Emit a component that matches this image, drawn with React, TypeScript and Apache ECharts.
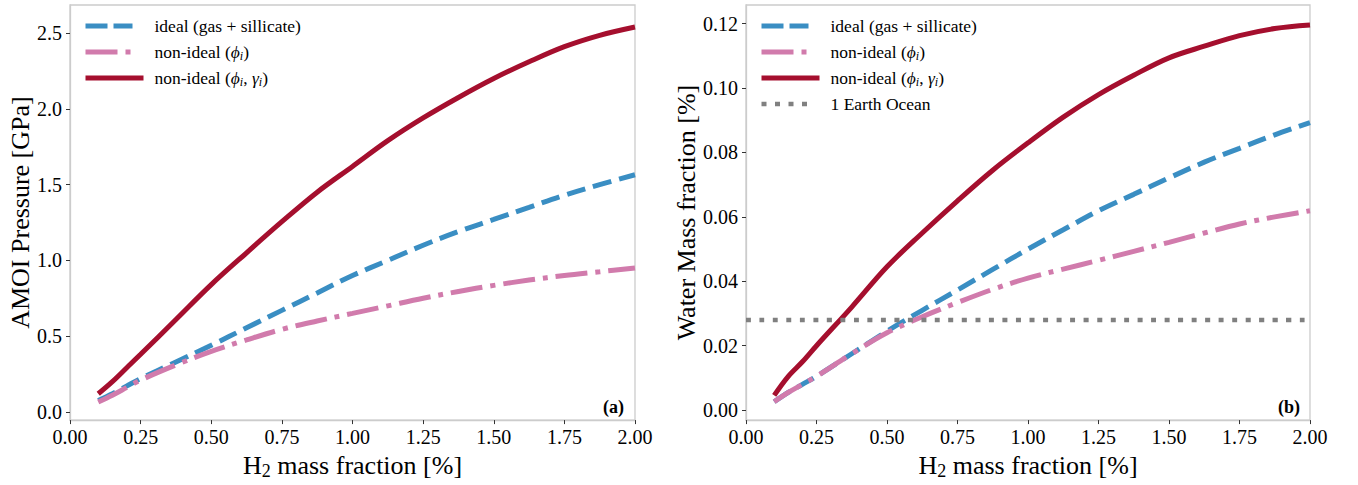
import React, { useEffect, useRef } from "react";
import * as echarts from "echarts";

// ---- data ----
const h2Fraction = [0.1, 0.15, 0.2, 0.25, 0.375, 0.5, 0.625, 0.75, 0.875, 1.0, 1.125, 1.25, 1.375, 1.5, 1.625, 1.75, 1.875, 2.0];
const pressureIdeal = [0.075, 0.12, 0.17, 0.22, 0.33, 0.44, 0.555, 0.67, 0.785, 0.9, 1.0, 1.1, 1.19, 1.27, 1.35, 1.43, 1.5, 1.565];
const pressurePhi = [0.065, 0.11, 0.16, 0.21, 0.31, 0.4, 0.475, 0.545, 0.6, 0.65, 0.7, 0.75, 0.795, 0.835, 0.87, 0.9, 0.925, 0.95];
const pressurePhiGamma = [0.12, 0.2, 0.29, 0.38, 0.61, 0.84, 1.05, 1.255, 1.45, 1.62, 1.79, 1.94, 2.075, 2.2, 2.31, 2.41, 2.485, 2.54];
const waterIdeal = [0.0026, 0.0055, 0.008, 0.0105, 0.0175, 0.0245, 0.031, 0.0373, 0.0437, 0.05, 0.056, 0.0619, 0.067, 0.0721, 0.077, 0.0813, 0.0855, 0.0893];
const waterPhi = [0.0026, 0.0055, 0.008, 0.0105, 0.0175, 0.024, 0.029, 0.0334, 0.0375, 0.041, 0.0438, 0.0465, 0.0493, 0.0521, 0.055, 0.0578, 0.06, 0.0619];
const waterPhiGamma = [0.0046, 0.0105, 0.015, 0.02, 0.032, 0.0445, 0.055, 0.065, 0.0745, 0.083, 0.091, 0.098, 0.104, 0.1094, 0.113, 0.1163, 0.1185, 0.1196];
const earthOceanX = [0, 2];
const earthOceanWater = [0.028, 0.028];

const xTicks = [0, 0.25, 0.5, 0.75, 1.0, 1.25, 1.5, 1.75, 2.0];
const pressureTicks = [0, 0.5, 1.0, 1.5, 2.0, 2.5];
const waterTicks = [0, 0.02, 0.04, 0.06, 0.08, 0.1, 0.12];

const NAME_IDEAL = "ideal (gas + sillicate)";
const NAME_PHI = "non-ideal (ϕi)";
const NAME_PHIGAMMA = "non-ideal (ϕi, γi)";
const NAME_OCEAN = "1 Earth Ocean";

const richNames: Record<string, string> = {
  [NAME_IDEAL]: "ideal (gas + sillicate)",
  [NAME_PHI]: "non-ideal ({m|ϕ}{s|i})",
  [NAME_PHIGAMMA]: "non-ideal ({m|ϕ}{s|i}, {m|γ}{s|i})",
  [NAME_OCEAN]: "1 Earth Ocean",
};

const FONT = "'Liberation Serif', 'Times New Roman', serif";
const BLUE = "#3a8ec3";
const PINK = "#d17bac";
const RED = "#a50f2e";
const GRAY = "#808080";
const SPINE = "#cccccc";

const DASH_IDEAL = [19, 8];
const DASH_PHI = [32, 8, 5, 8];
const DASH_OCEAN = [5, 8.5];

const styleOf: Record<string, { color: string; type: any; legendType: any; width: number }> = {
  [NAME_IDEAL]: { color: BLUE, type: DASH_IDEAL, legendType: [22, 6, 19, 40], width: 5 },
  [NAME_PHI]: { color: PINK, type: DASH_PHI, legendType: [32, 8, 5, 40], width: 5 },
  [NAME_PHIGAMMA]: { color: RED, type: "solid", legendType: "solid", width: 5 },
  [NAME_OCEAN]: { color: GRAY, type: DASH_OCEAN, legendType: [5, 8.5, 5, 8.5, 5, 8.5, 5, 40], width: 4.5 },
};

const pairs = (xs: number[], ys: number[]) => xs.map((x, i) => [x, ys[i]]);

export default function App() {
  const ref = useRef<HTMLDivElement>(null);
  useEffect(() => {
    if (!ref.current) return;
    const chart = echarts.init(ref.current, undefined, { renderer: "svg" });

    const grids = [
      { left: 70, top: 5, width: 565, height: 420 },
      { left: 746, top: 5, width: 564, height: 420 },
    ];

    const xAxisBase = (gridIndex: number) => ({
      type: "value",
      gridIndex,
      min: 0,
      max: 2,
      name: "{n|H}{s|2}{n| mass fraction [%]}",
      nameLocation: "middle",
      nameGap: 27,
      nameTextStyle: {
        rich: {
          n: { fontFamily: FONT, fontSize: 26, color: "#000", lineHeight: 30 },
          s: { fontFamily: FONT, fontSize: 18, color: "#000", verticalAlign: "bottom", lineHeight: 16 },
        },
      },
      axisLine: { show: true, onZero: false, lineStyle: { color: SPINE, width: 1.3 } },
      axisTick: { show: true, customValues: xTicks, length: 4, lineStyle: { color: "#333", width: 1 } },
      axisLabel: {
        customValues: xTicks,
        formatter: (v: number) => v.toFixed(2),
        fontFamily: FONT,
        fontSize: 20,
        color: "#000",
        margin: 7,
      },
      splitLine: { show: false },
    });

    const yAxisBase = (gridIndex: number, min: number, max: number, ticks: number[], digits: number, name: string, nameGap: number) => ({
      type: "value",
      gridIndex,
      min,
      max,
      name,
      nameLocation: "middle",
      nameGap,
      nameTextStyle: { fontFamily: FONT, fontSize: 26, color: "#000" },
      axisLine: { show: true, onZero: false, lineStyle: { color: SPINE, width: 1.3 } },
      axisTick: { show: true, customValues: ticks, length: 4, lineStyle: { color: "#333", width: 1 } },
      axisLabel: {
        customValues: ticks,
        formatter: (v: number) => v.toFixed(digits),
        fontFamily: FONT,
        fontSize: 20,
        color: "#000",
        margin: 8,
      },
      splitLine: { show: false },
    });

    const lineSeries = (name: string, xi: number, data: number[][]) => {
      const st = styleOf[name];
      return {
        type: "line",
        name,
        xAxisIndex: xi,
        yAxisIndex: xi,
        data,
        symbol: "none",
        smooth: 0.35,
        itemStyle: { color: st.color },
        lineStyle: { color: st.color, width: st.width, type: st.type, cap: "butt" },
        emphasis: { disabled: true },
      };
    };

    const legendItem = (name: string) => {
      const st = styleOf[name];
      return {
        name,
        icon: "line",
        itemStyle: {
          color: st.color,
          borderColor: st.color,
          borderWidth: st.width,
          borderType: st.legendType,
          borderCap: "butt",
        },
      };
    };

    const legendBase = (left: number, names: string[]) => ({
      show: true,
      orient: "vertical",
      left,
      top: 16,
      padding: 0,
      itemWidth: 58,
      itemHeight: 14,
      itemGap: 6,
      data: names.map(legendItem),
      selectedMode: false,
      formatter: (name: string) => richNames[name] ?? name,
      textStyle: {
        fontFamily: FONT,
        fontSize: 17.5,
        color: "#000",
        lineHeight: 20,
        padding: [0, 0, 0, 6],
        rich: {
          m: { fontFamily: FONT, fontSize: 17.5, fontStyle: "italic", color: "#000" },
          s: { fontFamily: FONT, fontSize: 12, fontStyle: "italic", color: "#000", verticalAlign: "bottom", lineHeight: 10 },
        },
      },
    });

    chart.setOption({
      animation: false,
      backgroundColor: "#ffffff",
      grid: grids.map((g) => ({ ...g, show: true, borderColor: SPINE, borderWidth: 1.3, backgroundColor: "transparent", containLabel: false })),
      xAxis: [xAxisBase(0), xAxisBase(1)],
      yAxis: [
        yAxisBase(0, -0.054, 2.685, pressureTicks, 1, "AMOI Pressure [GPa]", 36),
        yAxisBase(1, -0.0031, 0.1258, waterTicks, 2, "Water Mass fraction [%]", 47),
      ],
      legend: [
        legendBase(83, [NAME_IDEAL, NAME_PHI, NAME_PHIGAMMA]),
        legendBase(759, [NAME_IDEAL, NAME_PHI, NAME_PHIGAMMA, NAME_OCEAN]),
      ],
      series: [
        lineSeries(NAME_IDEAL, 0, pairs(h2Fraction, pressureIdeal)),
        lineSeries(NAME_PHI, 0, pairs(h2Fraction, pressurePhi)),
        lineSeries(NAME_PHIGAMMA, 0, pairs(h2Fraction, pressurePhiGamma)),
        lineSeries(NAME_IDEAL, 1, pairs(h2Fraction, waterIdeal)),
        lineSeries(NAME_PHI, 1, pairs(h2Fraction, waterPhi)),
        lineSeries(NAME_PHIGAMMA, 1, pairs(h2Fraction, waterPhiGamma)),
        lineSeries(NAME_OCEAN, 1, pairs(earthOceanX, earthOceanWater)),
      ],
      graphic: [
        {
          type: "text",
          x: 624,
          y: 407,
          style: { text: "(a)", font: `bold 18px ${FONT}`, fill: "#000", textAlign: "right", textVerticalAlign: "middle" },
        },
        {
          type: "text",
          x: 1300,
          y: 407,
          style: { text: "(b)", font: `bold 18px ${FONT}`, fill: "#000", textAlign: "right", textVerticalAlign: "middle" },
        },
      ],
    });

    return () => chart.dispose();
  }, []);

  return <div ref={ref} style={{ position: "fixed", left: 0, top: 0, width: 1358, height: 485 }} />;
}
